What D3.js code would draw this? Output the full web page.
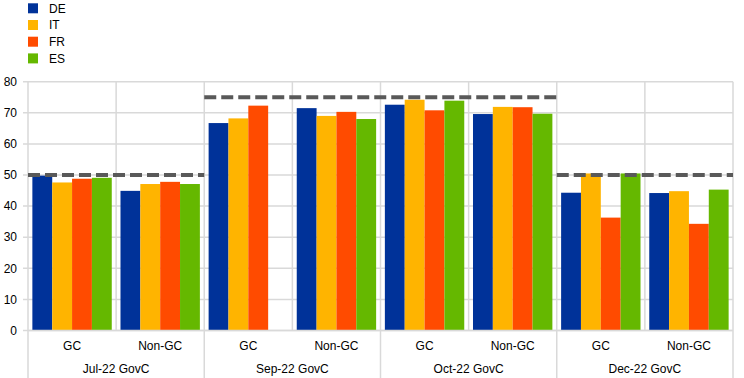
<!DOCTYPE html>
<html><head><meta charset="utf-8">
<script src="https://cdn.jsdelivr.net/npm/d3@7"></script>
<style>body{margin:0;background:#fff}svg{display:block;font-family:"Liberation Sans",Arial,sans-serif}</style>
</head><body><svg id="c" width="744" height="378"></svg>
<script>
const groups = ["Jul-22 GovC","Sep-22 GovC","Oct-22 GovC","Dec-22 GovC"];
const subcats = ["GC","Non-GC"];
const seriesNames = ["DE","IT","FR","ES"];
const colors = ["#003299","#FFB400","#FF4B00","#65B800"];
const DE = [49.8,44.9, 66.7,71.5, 72.6,69.6, 44.3,44.2];
const IT = [47.6,47.1, 68.2,69.0, 74.2,71.9, 50.5,44.8];
const FR = [48.8,47.8, 72.3,70.3, 70.8,71.8, 36.3,34.3];
const ES = [49.1,47.1, null,68.0, 73.9,69.7, 50.5,45.3];
const thresholds = [{from:0,to:2,v:50},{from:2,to:6,v:75},{from:6,to:8,v:50}];
const yTicks = [0,10,20,30,40,50,60,70,80];

const svg = d3.select("#c");
const L=28, R=733, T=81.7, B=330.5;
const cats = [];
groups.forEach(g=>subcats.forEach(s=>cats.push(g+"|"+s)));
const x = d3.scaleBand().domain(cats).range([L,R]).paddingInner(0).paddingOuter(0);
const xs = d3.scaleBand().domain(seriesNames).range([0,x.bandwidth()]).paddingOuter(0.22).paddingInner(0);
const y = d3.scaleLinear().domain([0,80]).range([B,T]);
const grid="#d9d9d9";

svg.append("g").selectAll("line").data(yTicks).join("line")
  .attr("x1",L-5).attr("x2",R).attr("y1",d=>y(d)).attr("y2",d=>y(d))
  .attr("stroke",grid).attr("stroke-width",1.5);
svg.append("g").selectAll("line").data(d3.range(cats.length+1)).join("line")
  .attr("x1",i=>L+i*x.step()).attr("x2",i=>L+i*x.step())
  .attr("y1",T).attr("y2",i=>i%2===0?378:B)
  .attr("stroke",grid).attr("stroke-width",1.5);

svg.append("g").selectAll("text").data(yTicks).join("text")
  .attr("x",17).attr("y",d=>y(d)).attr("dy","0.35em").attr("text-anchor","end")
  .attr("font-size",12).attr("fill","#000").text(d=>d);

const series=[DE,IT,FR,ES];
series.forEach((vals,si)=>{
  svg.append("g").selectAll("rect").data(vals.map((v,i)=>({v,i})).filter(d=>d.v!=null)).join("rect")
    .attr("x",d=>x(cats[d.i])+xs(seriesNames[si]))
    .attr("width",xs.bandwidth())
    .attr("y",d=>y(d.v)).attr("height",d=>B-y(d.v))
    .attr("fill",colors[si]);
});

svg.append("g").selectAll("line").data(thresholds).join("line")
  .attr("x1",d=>L+d.from*x.step()).attr("x2",d=>L+d.to*x.step())
  .attr("y1",d=>y(d.v)).attr("y2",d=>y(d.v))
  .attr("stroke","#595959").attr("stroke-width",4).attr("stroke-dasharray","12,5");

svg.append("line").attr("x1",L).attr("x2",R).attr("y1",B).attr("y2",B).attr("stroke",grid).attr("stroke-width",1.5);

svg.append("g").selectAll("text").data(cats).join("text")
  .attr("x",d=>x(d)+x.bandwidth()/2).attr("y",346).attr("dy","0.35em").attr("text-anchor","middle")
  .attr("font-size",12).text(d=>d.split("|")[1]);
svg.append("g").selectAll("text").data(groups).join("text")
  .attr("x",(d,i)=>L+(2*i+1)*x.step()).attr("y",368.5).attr("dy","0.35em").attr("text-anchor","middle")
  .attr("font-size",12).text(d=>d);

const lg = svg.append("g").selectAll("g").data(seriesNames).join("g")
  .attr("transform",(d,i)=>`translate(28,${8.3+i*16.7})`);
lg.append("rect").attr("x",0).attr("y",-5).attr("width",10).attr("height",10).attr("fill",(d,i)=>colors[i]);
lg.append("text").attr("x",21).attr("dy","0.35em").attr("font-size",12).text(d=>d);
</script></body></html>
